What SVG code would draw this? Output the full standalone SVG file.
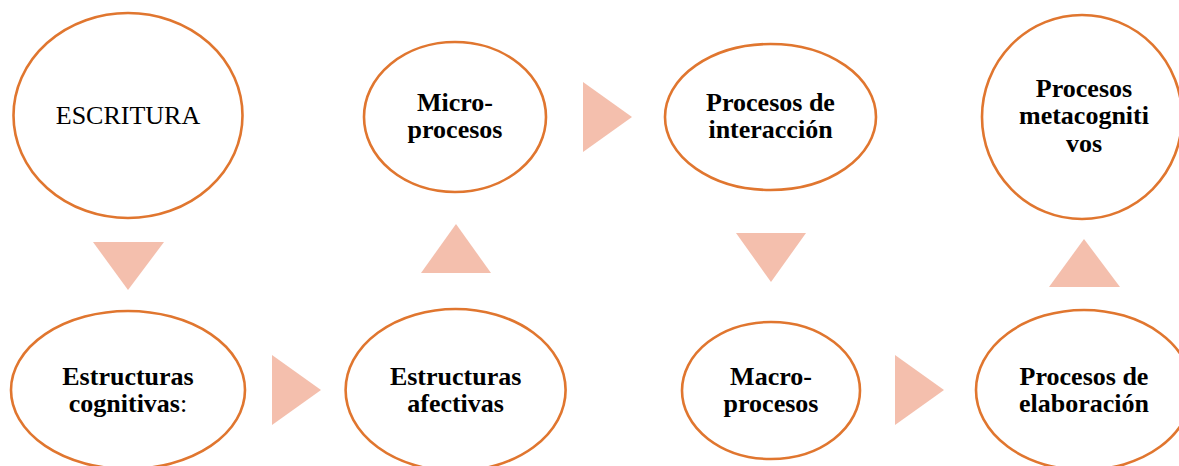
<svg xmlns="http://www.w3.org/2000/svg" width="1179" height="466" viewBox="0 0 1179 466">
<style>
.n{fill:#fff;stroke:#E0762F;stroke-width:2.6}
.a{fill:#F4BFAD;stroke:none}
text{font-family:"Liberation Serif","Times New Roman",serif;font-size:26px;fill:#000;text-anchor:middle}
.b{font-weight:bold}
</style>
<rect width="1179" height="466" fill="#fff"/>
<g id="connectors">
<polygon class="a" points="93,242 164,242 128,290"/>
<polygon class="a" points="272,355 272,425 321,390"/>
<polygon class="a" points="421,273 491,273 456,224"/>
<polygon class="a" points="583,82 583,152 632,117"/>
<polygon class="a" points="736,233 806,233 771,282"/>
<polygon class="a" points="895,355 895,425 944,390"/>
<polygon class="a" points="1049,287 1120,287 1084,239"/>
</g>
<g id="escritura">
<ellipse class="n" cx="128" cy="115.5" rx="114.5" ry="102.5"/>
<text x="128" y="124">ESCRITURA</text>
</g>
<g id="micro">
<ellipse class="n" cx="455" cy="117" rx="91" ry="75"/>
<text class="b" x="455" y="111">Micro-</text>
<text class="b" x="455" y="138">procesos</text>
</g>
<g id="interaccion">
<ellipse class="n" cx="770.5" cy="117" rx="105.5" ry="73"/>
<text class="b" x="770.5" y="111">Procesos de</text>
<text class="b" x="770.5" y="138">interacción</text>
</g>
<g id="metacognitivos">
<ellipse class="n" cx="1082" cy="117" rx="100" ry="102"/>
<text class="b" x="1084" y="97">Procesos</text>
<text class="b" x="1084" y="124">metacogniti</text>
<text class="b" x="1084" y="152">vos</text>
</g>
<g id="cognitivas">
<ellipse class="n" cx="128" cy="390" rx="117" ry="79"/>
<text class="b" x="128" y="385">Estructuras</text>
<text x="128" y="412"><tspan class="b">cognitivas</tspan>:</text>
</g>
<g id="afectivas">
<ellipse class="n" cx="455.6" cy="390" rx="110" ry="81"/>
<text class="b" x="455.6" y="385">Estructuras</text>
<text class="b" x="455.6" y="412">afectivas</text>
</g>
<g id="macro">
<ellipse class="n" cx="771" cy="390.5" rx="89" ry="68.5"/>
<text class="b" x="771" y="385">Macro-</text>
<text class="b" x="771" y="412">procesos</text>
</g>
<g id="elaboracion">
<ellipse class="n" cx="1084" cy="390" rx="108" ry="80"/>
<text class="b" x="1084" y="385">Procesos de</text>
<text class="b" x="1084" y="412">elaboración</text>
</g>
</svg>
